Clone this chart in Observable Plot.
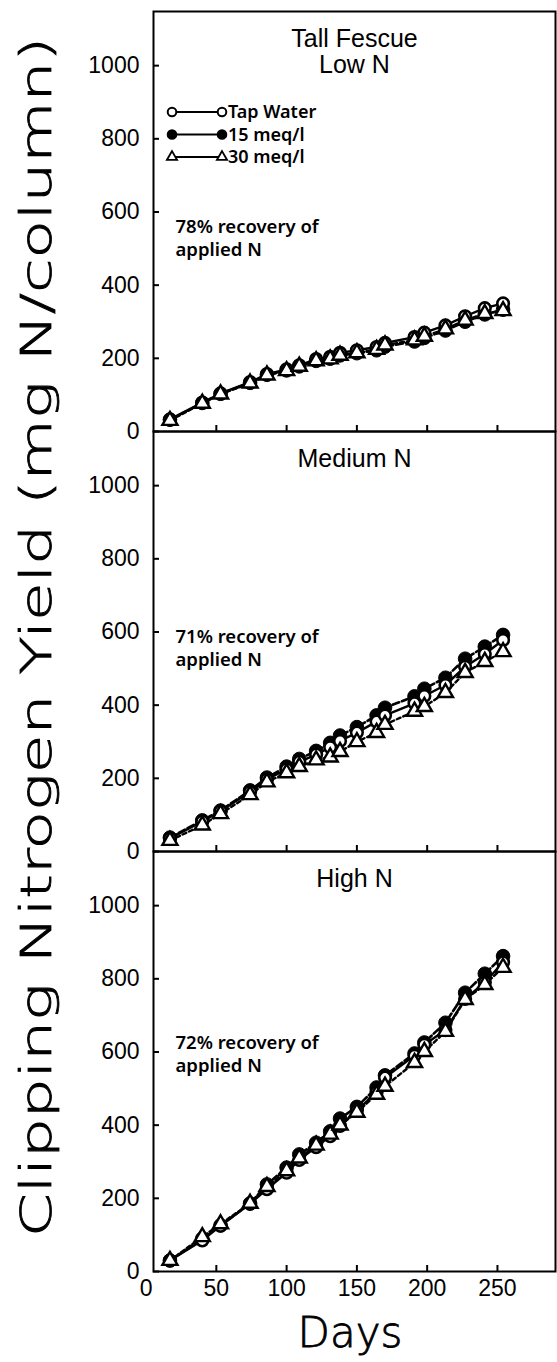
<!DOCTYPE html>
<html><head><meta charset="utf-8">
<script src="https://cdn.jsdelivr.net/npm/d3@7"></script>
<script src="https://cdn.jsdelivr.net/npm/@observablehq/plot@0.6"></script>
<style>body{margin:0;background:#fff} #chart{width:557px;height:1362px}</style>
</head><body><div id="chart"></div>
<script>
// ---- data ----
const panels = ["Low N", "Medium N", "High N"];
const panelTitles = ["Tall Fescue\nLow N", "Medium N", "High N"];
const recoveryNotes = ["78% recovery of\napplied N", "71% recovery of\napplied N", "72% recovery of\napplied N"];
const seriesNames = ["Tap Water", "15 meq/l", "30 meq/l"];
const days = [17, 40, 53, 74, 86, 100, 109, 121, 131, 138, 150, 164, 170, 191, 198, 213, 227, 241, 254];

const lowTap  = [33, 79, 104, 135, 157, 170, 181, 198, 204, 215, 222, 231, 242, 258, 270, 290, 315, 337, 350];
const low15   = [32, 78, 103, 133, 155, 167, 178, 193, 199, 208, 214, 222, 232, 246, 256, 276, 300, 320, 333];
const low30   = [30, 77, 102, 132, 154, 166, 178, 193, 198, 208, 215, 224, 236, 250, 260, 280, 304, 322, 330];

const medTap  = [36, 82, 110, 163, 197, 225, 245, 265, 285, 302, 325, 355, 372, 405, 425, 455, 505, 540, 578];
const med15   = [38, 85, 112, 167, 202, 232, 253, 275, 297, 317, 340, 372, 393, 424, 445, 475, 527, 560, 592];
const med30   = [30, 72, 103, 155, 190, 215, 232, 250, 258, 273, 300, 325, 347, 383, 396, 434, 489, 519, 546];

const highTap = [30, 85, 125, 185, 225, 270, 305, 340, 370, 398, 440, 490, 530, 590, 620, 660, 745, 790, 845];
const high15  = [30, 90, 126, 186, 238, 284, 320, 352, 383, 418, 450, 503, 536, 596, 626, 680, 762, 814, 862];
const high30  = [30, 95, 130, 186, 232, 275, 310, 345, 375, 400, 435, 484, 506, 571, 601, 656, 743, 784, 831];

const xTicks = [0, 50, 100, 150, 200, 250];
const yTicks = [0, 200, 400, 600, 800, 1000];

// ---- table ----
const seriesByPanel = [[lowTap, low15, low30], [medTap, med15, med30], [highTap, high15, high30]];
const rows = [];
panels.forEach((p, i) => seriesNames.forEach((s, j) =>
  days.forEach((d, k) => rows.push({panel: p, series: s, day: d, value: seriesByPanel[i][j][k]}))));
const of = s => rows.filter(r => r.series === s);
const titleRows = panels.map((p, i) => ({panel: p, text: panelTitles[i]}));
const noteRows = panels.map((p, i) => ({panel: p, text: recoveryNotes[i]}));

const numFont = "Liberation Sans, Arial, sans-serif";
const noteFont = "Noto Sans, sans-serif";
const noteOpts = {fy: "panel", text: "text", frameAnchor: "top-left", textAnchor: "start", lineAnchor: "top",
  dx: 22, fontSize: 18.5, fontWeight: 600, lineHeight: 1.25, fontFamily: noteFont};

const chart = Plot.plot({
  width: 557, height: 1362,
  marginLeft: 153, marginRight: 2, marginTop: 10, marginBottom: 90,
  style: {fontFamily: numFont, background: "white", color: "black"},
  x: {domain: [5.3, 291.3], label: null},
  y: {domain: [0, 1148], label: null},
  fy: {domain: panels, padding: 0, axis: null, label: null},
  marks: [
    Plot.frame({stroke: "black", strokeWidth: 2}),
    Plot.axisY({ticks: yTicks, tickSize: -6, strokeWidth: 2, tickFormat: () => ""}),
    Plot.axisY({ticks: yTicks, tickSize: 0, tickPadding: 14, fontSize: 23, tickFormat: d => String(d)}),
    Plot.axisX({ticks: xTicks.filter(t => t > 0), tickSize: -6, strokeWidth: 2, tickFormat: () => "", facetAnchor: null}),
    Plot.axisX({ticks: xTicks, tickSize: 0, tickPadding: 8, fontSize: 23, tickFormat: d => String(d)}),
    Plot.line(of("15 meq/l"), {x: "day", y: "value", fy: "panel", stroke: "black", strokeWidth: 2.6, strokeDasharray: "7,3"}),
    Plot.line(of("Tap Water"), {x: "day", y: "value", fy: "panel", stroke: "black", strokeWidth: 2.4}),
    Plot.line(of("30 meq/l"), {x: "day", y: "value", fy: "panel", stroke: "black", strokeWidth: 2.4, strokeDasharray: "4,3"}),
    Plot.dot(of("15 meq/l"), {x: "day", y: "value", fy: "panel", r: 6.8, fill: "black", stroke: "black", strokeWidth: 1}),
    Plot.dot(of("Tap Water"), {x: "day", y: "value", fy: "panel", r: 5.8, fill: "white", stroke: "black", strokeWidth: 2.6}),
    Plot.dot(of("30 meq/l"), {x: "day", y: "value", fy: "panel", symbol: "triangle", r: 5.6, fill: "white", stroke: "black", strokeWidth: 2.4}),
    Plot.text(titleRows, {fy: "panel", text: "text", frameAnchor: "top", lineAnchor: "top", dy: 17, fontSize: 25, lineHeight: 1.05, fontFamily: numFont}),
    Plot.text(noteRows.filter(d => d.panel === "Low N"), {...noteOpts, dy: 205}),
    Plot.text(noteRows.filter(d => d.panel === "Medium N"), {...noteOpts, dy: 195}),
    Plot.text(noteRows.filter(d => d.panel === "High N"), {...noteOpts, dy: 181})
  ]
});
document.getElementById("chart").append(chart);

// ---- axis titles and legend ----
const svg = d3.select(chart);
const labelFont = "DejaVu Sans, sans-serif";
svg.append("text")
  .attr("transform", "translate(51,637) rotate(-90)")
  .attr("text-anchor", "middle")
  .attr("font-family", labelFont).attr("font-weight", 200).attr("font-size", 42)
  .attr("textLength", 1200).attr("lengthAdjust", "spacingAndGlyphs")
  .attr("fill", "black").attr("stroke", "black").attr("stroke-width", 0.8)
  .text("Clipping Nitrogen Yield (mg N/column)");
svg.append("text")
  .attr("x", 350).attr("y", 1347)
  .attr("text-anchor", "middle")
  .attr("font-family", labelFont).attr("font-weight", 200).attr("font-size", 42)
  .attr("fill", "black").attr("stroke", "black").attr("stroke-width", 0.8)
  .text("Days");

const legend = svg.append("g").attr("font-family", noteFont).attr("font-size", 18)
  .attr("font-weight", 600).attr("text-anchor", "start");
const legendStyles = [
  {sym: "circle", fill: "white"},
  {sym: "circle", fill: "black"},
  {sym: "triangle", fill: "white"}
];
seriesNames.forEach((name, i) => {
  const y = 112 + i * 22.5;
  const g = legend.append("g").attr("transform", `translate(0,${y})`);
  g.append("line").attr("x1", 172).attr("x2", 222).attr("stroke", "black").attr("stroke-width", 2);
  [172, 222].forEach(cx => {
    const st = legendStyles[i];
    if (st.sym === "circle") {
      g.append("circle").attr("cx", cx).attr("cy", 0).attr("r", 4.3)
        .attr("fill", st.fill).attr("stroke", "black").attr("stroke-width", 2);
    } else {
      g.append("path").attr("d", d3.symbol(d3.symbolTriangle, 45)()).attr("transform", `translate(${cx},0)`)
        .attr("fill", "white").attr("stroke", "black").attr("stroke-width", 1.8);
    }
  });
  g.append("text").attr("x", 228).attr("dy", "0.35em").attr("fill", "black").text(name);
});
</script>
</body></html>
